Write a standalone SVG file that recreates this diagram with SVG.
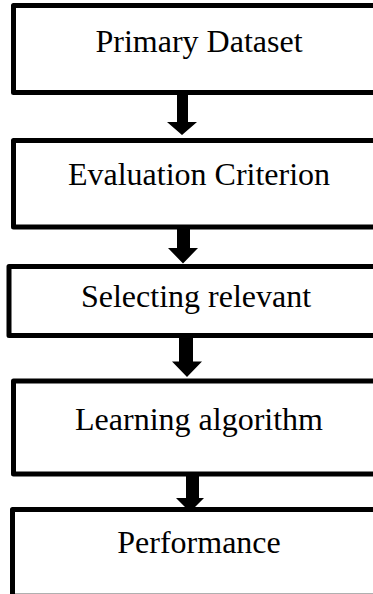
<svg xmlns="http://www.w3.org/2000/svg" width="373" height="594" viewBox="0 0 373 594">
<style>
.box{fill:#fff;stroke:#000;stroke-width:5;stroke-linejoin:round}
.lbl{font-family:"Liberation Serif","Times New Roman",serif;font-size:32px;fill:#000;text-anchor:middle}
.arr{fill:#000;stroke:none}
</style>
<rect width="373" height="594" fill="#fff"/>
<g id="node-primary">
<rect class="box" x="13.5" y="5.5" width="400" height="87"/>
<text class="lbl" x="199" y="52">Primary Dataset</text>
</g>
<g id="node-evaluation">
<rect class="box" x="13.5" y="140.5" width="400" height="86.5"/>
<text class="lbl" x="199" y="185">Evaluation Criterion</text>
</g>
<g id="node-selecting">
<rect class="box" x="9" y="266.5" width="400" height="69"/>
<text class="lbl" x="196" y="307">Selecting relevant</text>
</g>
<g id="node-learning">
<rect class="box" x="13.5" y="381" width="400" height="93"/>
<text class="lbl" x="199" y="430">Learning algorithm</text>
</g>
<g id="node-performance">
<rect class="box" x="12.5" y="509.5" width="400" height="92"/>
<line x1="15" y1="593.5" x2="373" y2="593.5" stroke="#b0b0b0" stroke-width="1"/>
<text class="lbl" x="199" y="553">Performance</text>
</g>
<g id="connectors">
<polygon class="arr" points="177,95 188,95 188,122 197,122 182,135 167,122 177,122"/>
<polygon class="arr" points="177,229 190,229 190,248 198,248 183,263.5 168,248 177,248"/>
<polygon class="arr" points="179,338 193,338 193,361.5 202,361.5 187,377 172,361.5 179,361.5"/>
<polygon class="arr" points="186,476 199,476 199,498 204,498 190,512 176,498 186,498"/>
</g>
</svg>
